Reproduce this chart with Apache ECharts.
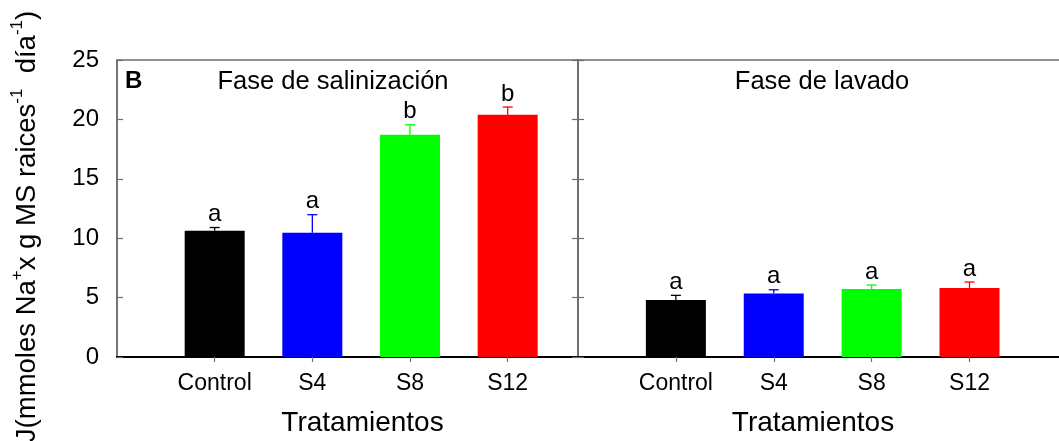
<!DOCTYPE html>
<html>
<head>
<meta charset="utf-8">
<script src="https://cdn.jsdelivr.net/npm/echarts@6/dist/echarts.min.js"></script>
<style>
html,body{margin:0;padding:0;background:#fff;}
#c{width:1059px;height:441px;}
</style>
</head>
<body>
<div id="c"></div>
<script>
// ---- data ----
const categories = ['Control', 'S4', 'S8', 'S12'];
const barColors = ['#000000', '#0000ff', '#00ff00', '#ff0000'];
const salValues = [10.63, 10.46, 18.71, 20.39];
const salErrors = [0.27, 1.52, 0.84, 0.65];
const salLetters = ['a', 'a', 'b', 'b'];
const lavValues = [4.80, 5.35, 5.72, 5.81];
const lavErrors = [0.39, 0.31, 0.34, 0.50];
const lavLetters = ['a', 'a', 'a', 'a'];
const yTicks = [0, 5, 10, 15, 20, 25];
const panelTitles = ['Fase de salinización', 'Fase de lavado'];
const panelLetter = 'B';
const xTitle = 'Tratamientos';

const FONT = '"Liberation Sans", Arial, Helvetica, sans-serif';
const GRAY = '#6e6e6e';

const chart = echarts.init(document.getElementById('c'));

function barData(values) {
  return values.map((v, i) => ({ value: [i + 1, v], itemStyle: { color: barColors[i] } }));
}
function errData(values, errs) {
  return values.map((v, i) => [i + 1, v, errs[i]]);
}
function errRender(letters) {
  return function (params, api) {
    const i = params.dataIndex;
    const x = api.value(0), v = api.value(1), e = api.value(2);
    const p0 = api.coord([x, v]);
    const p1 = api.coord([x, v + e]);
    const col = barColors[i];
    return {
      type: 'group',
      children: [
        { type: 'line', shape: { x1: p0[0], y1: p0[1], x2: p1[0], y2: p1[1] }, style: { stroke: col, lineWidth: 1.3 } },
        { type: 'line', shape: { x1: p1[0] - 5, y1: p1[1], x2: p1[0] + 5, y2: p1[1] }, style: { stroke: col, lineWidth: 1.3 } },
        { type: 'text', x: p1[0], y: p1[1] - 1, style: { text: letters[i], fontSize: 24, fontFamily: FONT, fill: '#000', align: 'center', verticalAlign: 'bottom' } }
      ]
    };
  };
}

function xAxisFor(gridIndex, max) {
  return {
    type: 'value', gridIndex: gridIndex, min: 0, max: max,
    name: xTitle, nameLocation: 'middle', nameGap: 52,
    nameTextStyle: { fontSize: 28, fontFamily: FONT, color: '#000', padding: gridIndex === 0 ? [0, 0, 0, 30] : [0, 14, 0, 0] },
    axisLine: { show: true, onZero: false, lineStyle: { color: '#000', width: 2 } },
    axisTick: { show: true, inside: false, length: 5, customValues: [1, 2, 3, 4], lineStyle: { color: GRAY, width: 1.2 } },
    axisLabel: { show: true, customValues: [1, 2, 3, 4], margin: 15, fontSize: 23, fontFamily: FONT, color: '#000',
      formatter: v => categories[Math.round(v) - 1] || '' },
    splitLine: { show: false }
  };
}
function yAxisFor(gridIndex, position, showLabels, showTicks) {
  return {
    type: 'value', gridIndex: gridIndex, position: position, min: 0, max: 25, interval: 5,
    axisLine: { show: true, lineStyle: { color: GRAY, width: 1.5 } },
    axisTick: { show: showTicks, inside: true, length: 6, lineStyle: { color: GRAY, width: 1.2 } },
    axisLabel: { show: showLabels, margin: 18, fontSize: 24, fontFamily: FONT, color: '#000',
      formatter: v => (yTicks.indexOf(v) >= 0 ? String(v) : '') },
    splitLine: { show: false }
  };
}

const yLeft = yAxisFor(0, 'left', true, true);
yLeft.name = '{n|J(mmoles Na}{s|+}{n|x g MS raices}{s|-1}{n|  día}{s|-1}{n|)}';
yLeft.nameLocation = 'middle';
yLeft.nameRotate = 90;
yLeft.nameGap = 76;
yLeft.nameTextStyle = {
  padding: [0, 36, 0, 0],
  rich: {
    n: { fontSize: 27.5, fontFamily: FONT, color: '#000', lineHeight: 32, verticalAlign: 'bottom' },
    s: { fontSize: 17, fontFamily: FONT, color: '#000', lineHeight: 32, verticalAlign: 'top' }
  }
};

const option = {
  animation: false,
  backgroundColor: '#fff',
  grid: [
    { left: 117, top: 60, width: 461, height: 297, show: true, borderColor: GRAY, borderWidth: 1.5, containLabel: false, outerBoundsMode: 'none' },
    { left: 578, top: 60, width: 484, height: 297, show: true, borderColor: GRAY, borderWidth: 1.5, containLabel: false, outerBoundsMode: 'none' }
  ],
  xAxis: [xAxisFor(0, 4.72), xAxisFor(1, 4.945)],
  yAxis: [
    yLeft,
    yAxisFor(0, 'right', false, true),
    yAxisFor(1, 'left', false, true),
    yAxisFor(1, 'right', false, false)
  ],
  graphic: [
    { type: 'text', x: 125, y: 81, style: { text: panelLetter, fontSize: 24, fontWeight: 'bold', fontFamily: FONT, fill: '#000', align: 'left', verticalAlign: 'middle' } },
    { type: 'text', x: 333, y: 82, style: { text: panelTitles[0], fontSize: 25.5, fontFamily: FONT, fill: '#000', align: 'center', verticalAlign: 'middle' } },
    { type: 'text', x: 822, y: 82, style: { text: panelTitles[1], fontSize: 25.5, fontFamily: FONT, fill: '#000', align: 'center', verticalAlign: 'middle' } }
  ],
  series: [
    { type: 'bar', xAxisIndex: 0, yAxisIndex: 0, barWidth: 60, data: barData(salValues), z: 2 },
    { type: 'custom', xAxisIndex: 0, yAxisIndex: 0, data: errData(salValues, salErrors), renderItem: errRender(salLetters), z: 3 },
    { type: 'bar', xAxisIndex: 1, yAxisIndex: 2, barWidth: 60, data: barData(lavValues), z: 2 },
    { type: 'custom', xAxisIndex: 1, yAxisIndex: 2, data: errData(lavValues, lavErrors), renderItem: errRender(lavLetters), z: 3 }
  ]
};
chart.setOption(option);
</script>
</body>
</html>
